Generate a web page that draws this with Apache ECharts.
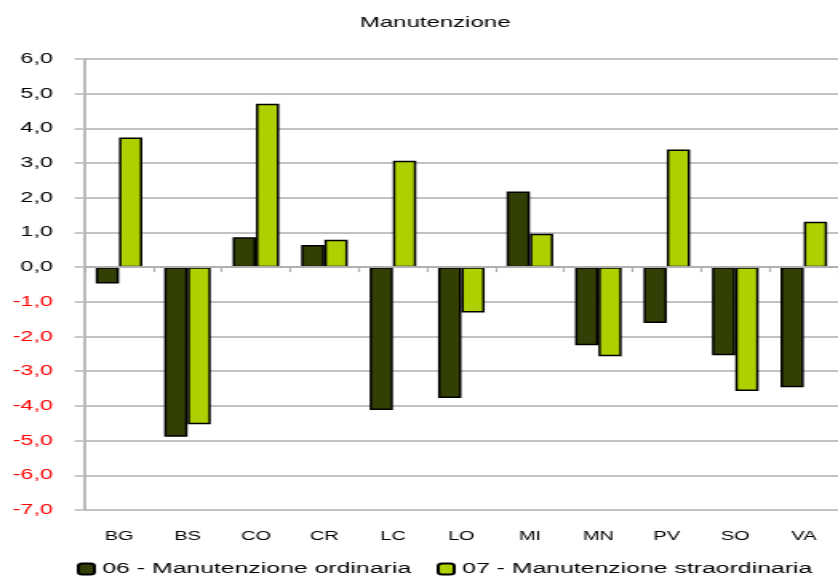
<!DOCTYPE html>
<html>
<head>
<meta charset="utf-8">
<script src="https://cdn.jsdelivr.net/npm/echarts@6/dist/echarts.min.js"></script>
<style>
  html, body { margin: 0; padding: 0; background: #fff; overflow: hidden; }
  /* the reference is a horizontally stretched picture, so draw narrow and stretch */
  #chart { width: 524px; height: 577px; transform: scaleX(1.59924); transform-origin: 0 0; }
</style>
</head>
<body>
<div id="chart"></div>
<script>
const categories = ["BG", "BS", "CO", "CR", "LC", "LO", "MI", "MN", "PV", "SO", "VA"]
const ordinaria = [-0.47, -4.89, 0.86, 0.64, -4.12, -3.77, 2.18, -2.25, -1.61, -2.54, -3.46]
const straordinaria = [3.74, -4.53, 4.71, 0.79, 3.07, -1.31, 0.96, -2.57, 3.39, -3.57, 1.31]
const seriesNames = ["06 - Manutenzione ordinaria", "07 - Manutenzione straordinaria"]

const font = "'Liberation Sans', Arial, sans-serif"
const gridColor = "#c2c2c2"
const axisColor = "#b0b0b0"

const chart = echarts.init(document.getElementById("chart"), undefined, { renderer: "canvas" })

chart.setOption({
  animation: false,
  backgroundColor: "#fff",
  title: {
    text: "Manutenzione",
    left: 225,
    top: 15,
    padding: 0,
    textStyle: { fontFamily: font, fontSize: 15, fontWeight: "normal", color: "#000" },
  },
  legend: {
    left: 48,
    top: 561,
    padding: 0,
    itemWidth: 10,
    itemHeight: 11,
    itemGap: 16,
    textStyle: { fontFamily: font, fontSize: 15.5, color: "#000" },
    data: seriesNames,
  },
  grid: { left: 53, right: -2.5, top: 59, bottom: 67, containLabel: false },
  xAxis: [
    {
      type: "category",
      data: categories,
      position: "bottom",
      axisLine: { show: false, onZero: false },
      axisTick: { show: false },
      axisLabel: { margin: 20, fontFamily: font, fontSize: 12.5, color: "#000" },
    },
    {
      // zero line with its small category ticks
      type: "category",
      data: categories,
      position: "top",
      z: 3,
      axisLine: { show: true, onZero: true, lineStyle: { color: axisColor, width: 2 } },
      axisTick: { show: true, inside: true, length: 5, lineStyle: { color: axisColor, width: 1.2 } },
      axisLabel: { show: false },
    },
  ],
  yAxis: {
    type: "value",
    min: -7,
    max: 6,
    interval: 1,
    axisLine: { show: true, lineStyle: { color: axisColor, width: 1.7 } },
    axisTick: { show: true, length: 6.25, lineStyle: { color: gridColor, width: 1.8 } },
    splitLine: { lineStyle: { color: gridColor, width: 1.8 } },
    axisLabel: {
      margin: 20,
      fontFamily: font,
      fontSize: 14.5,
      formatter: (v) => v.toFixed(1).replace(".", ","),
      color: (v) => (Number(v) < 0 ? "#ff0000" : "#000"),
    },
  },
  series: [
    {
      name: seriesNames[0],
      type: "bar",
      xAxisIndex: 0,
      barGap: "0%",
      barCategoryGap: "32%",
      itemStyle: { color: "#334005", borderColor: "#000", borderWidth: 1.5 },
      data: ordinaria,
    },
    {
      name: seriesNames[1],
      type: "bar",
      xAxisIndex: 0,
      itemStyle: { color: "#afcf00", borderColor: "#000", borderWidth: 1.5 },
      data: straordinaria,
    },
  ],
})
</script>
</body>
</html>
